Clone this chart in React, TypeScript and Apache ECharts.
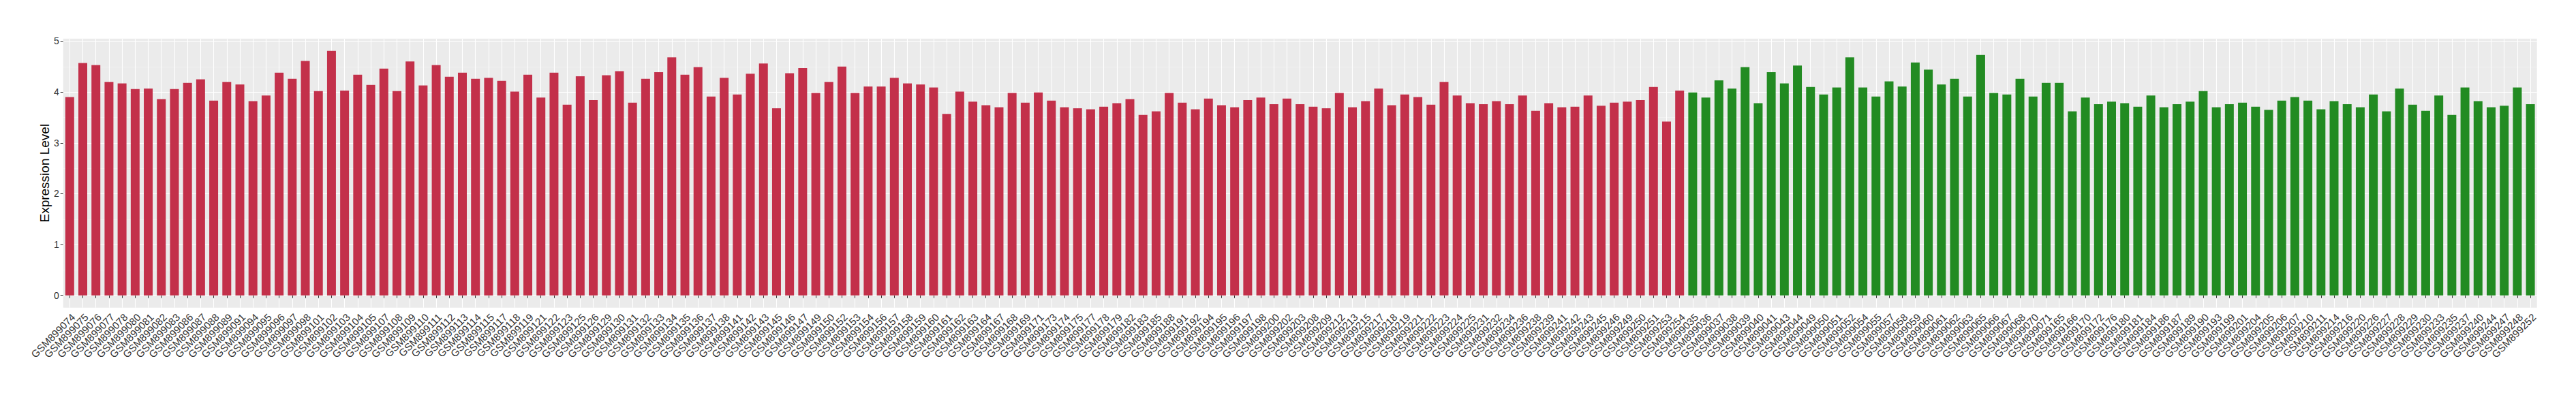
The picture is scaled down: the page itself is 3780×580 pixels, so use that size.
import React, { useEffect, useRef } from "react";
import * as echarts from "echarts";

const tumorSamples = [
  "GSM899074", "GSM899075", "GSM899076", "GSM899077", "GSM899078", "GSM899080", "GSM899081", "GSM899082", "GSM899083", "GSM899086",
  "GSM899087", "GSM899088", "GSM899089", "GSM899091", "GSM899094", "GSM899095", "GSM899096", "GSM899097", "GSM899098", "GSM899101",
  "GSM899102", "GSM899103", "GSM899104", "GSM899105", "GSM899107", "GSM899108", "GSM899109", "GSM899110", "GSM899111", "GSM899112",
  "GSM899113", "GSM899114", "GSM899115", "GSM899117", "GSM899118", "GSM899119", "GSM899121", "GSM899122", "GSM899123", "GSM899125",
  "GSM899126", "GSM899129", "GSM899130", "GSM899131", "GSM899132", "GSM899133", "GSM899134", "GSM899135", "GSM899136", "GSM899137",
  "GSM899138", "GSM899141", "GSM899142", "GSM899143", "GSM899145", "GSM899146", "GSM899147", "GSM899149", "GSM899150", "GSM899152",
  "GSM899153", "GSM899154", "GSM899156", "GSM899157", "GSM899158", "GSM899159", "GSM899160", "GSM899161", "GSM899162", "GSM899163",
  "GSM899164", "GSM899167", "GSM899168", "GSM899169", "GSM899171", "GSM899173", "GSM899174", "GSM899175", "GSM899177", "GSM899178",
  "GSM899179", "GSM899182", "GSM899183", "GSM899185", "GSM899188", "GSM899191", "GSM899192", "GSM899194", "GSM899195", "GSM899196",
  "GSM899197", "GSM899198", "GSM899200", "GSM899202", "GSM899203", "GSM899208", "GSM899209", "GSM899212", "GSM899213", "GSM899215",
  "GSM899217", "GSM899218", "GSM899219", "GSM899221", "GSM899222", "GSM899223", "GSM899224", "GSM899225", "GSM899231", "GSM899232",
  "GSM899234", "GSM899236", "GSM899238", "GSM899239", "GSM899241", "GSM899242", "GSM899243", "GSM899245", "GSM899246", "GSM899249",
  "GSM899250", "GSM899251", "GSM899253", "GSM899254",
];

const tumorValues = [
  3.90, 4.57, 4.53, 4.20, 4.17, 4.06, 4.07, 3.86, 4.06, 4.18,
  4.25, 3.83, 4.20, 4.15, 3.82, 3.93, 4.38, 4.26, 4.61, 4.02,
  4.81, 4.03, 4.34, 4.14, 4.46, 4.02, 4.60, 4.13, 4.53, 4.30,
  4.38, 4.26, 4.28, 4.22, 4.01, 4.34, 3.89, 4.38, 3.75, 4.31,
  3.84, 4.33, 4.41, 3.79, 4.26, 4.39, 4.68, 4.34, 4.49, 3.91,
  4.28, 3.95, 4.36, 4.56, 3.68, 4.37, 4.47, 3.98, 4.20, 4.50,
  3.98, 4.11, 4.11, 4.28, 4.17, 4.15, 4.09, 3.57, 4.01, 3.81,
  3.74, 3.70, 3.98, 3.79, 3.99, 3.83, 3.70, 3.68, 3.66, 3.71,
  3.78, 3.86, 3.55, 3.62, 3.98, 3.79, 3.66, 3.87, 3.74, 3.70,
  3.84, 3.89, 3.76, 3.87, 3.76, 3.71, 3.68, 3.98, 3.70, 3.82,
  4.07, 3.74, 3.95, 3.90, 3.75, 4.20, 3.93, 3.78, 3.76, 3.82,
  3.76, 3.93, 3.63, 3.78, 3.70, 3.71, 3.93, 3.73, 3.79, 3.81,
  3.84, 4.10, 3.42, 4.03,
];

const normalSamples = [
  "GSM899035", "GSM899036", "GSM899037", "GSM899038", "GSM899039", "GSM899040", "GSM899041", "GSM899043", "GSM899044", "GSM899049",
  "GSM899050", "GSM899051", "GSM899052", "GSM899054", "GSM899055", "GSM899057", "GSM899058", "GSM899059", "GSM899060", "GSM899061",
  "GSM899062", "GSM899063", "GSM899065", "GSM899066", "GSM899067", "GSM899068", "GSM899070", "GSM899071", "GSM899165", "GSM899166",
  "GSM899170", "GSM899172", "GSM899176", "GSM899180", "GSM899181", "GSM899184", "GSM899186", "GSM899187", "GSM899189", "GSM899190",
  "GSM899193", "GSM899199", "GSM899201", "GSM899204", "GSM899205", "GSM899206", "GSM899207", "GSM899210", "GSM899211", "GSM899214",
  "GSM899216", "GSM899220", "GSM899226", "GSM899227", "GSM899228", "GSM899229", "GSM899230", "GSM899233", "GSM899235", "GSM899237",
  "GSM899240", "GSM899244", "GSM899247", "GSM899248", "GSM899252",
];

const normalValues = [
  3.99, 3.89, 4.23, 4.07, 4.49, 3.78, 4.39, 4.17, 4.52, 4.10,
  3.95, 4.09, 4.68, 4.09, 3.91, 4.21, 4.11, 4.58, 4.44, 4.15,
  4.26, 3.91, 4.73, 3.98, 3.95, 4.26, 3.91, 4.18, 4.18, 3.62,
  3.89, 3.76, 3.81, 3.78, 3.71, 3.93, 3.70, 3.76, 3.81, 4.02,
  3.70, 3.76, 3.79, 3.71, 3.65, 3.83, 3.90, 3.83, 3.66, 3.82,
  3.76, 3.70, 3.95, 3.62, 4.07, 3.75, 3.63, 3.93, 3.55, 4.09,
  3.82, 3.70, 3.73, 4.09, 3.76,
];

const yTickMin = 0;
const yTickMax = 5;
const yTickStep = 1;

const TUMOR_COLOR = "#C3304A";
const NORMAL_COLOR = "#228B22";
const FONT = "'Liberation Sans', Arial, Helvetica, sans-serif";

export default function App() {
  const ref = useRef<HTMLDivElement>(null);

  useEffect(() => {
    if (!ref.current) return;
    const chart = echarts.init(ref.current, null, { renderer: "svg" });

    const categories = [...tumorSamples, ...normalSamples];
    const values = [...tumorValues, ...normalValues];
    const dataMax = Math.max(...values);
    const pad = dataMax * 0.05;
    const yMin = -pad;
    const yMax = dataMax + pad;

    const panel = { left: 92.7, top: 56.7, width: 3630, height: 395 };
    const pxPerUnit = panel.height / (yMax - yMin);
    const tickGridTop = panel.top + (yMax - yTickMax) * pxPerUnit;
    const tickGridHeight = (yTickMax - yTickMin) * pxPerUnit;

    const barData = values.map((v, i) => ({
      value: v,
      itemStyle: { color: i < tumorValues.length ? TUMOR_COLOR : NORMAL_COLOR },
    }));

    chart.setOption({
      animation: false,
      backgroundColor: "#FFFFFF",
      textStyle: { fontFamily: FONT },
      grid: [
        {
          left: panel.left,
          top: panel.top,
          width: panel.width,
          height: panel.height,
          show: true,
          backgroundColor: "#EBEBEB",
          borderWidth: 0,
          containLabel: false,
          outerBoundsMode: "none",
        },
        {
          left: panel.left,
          top: tickGridTop,
          width: panel.width,
          height: tickGridHeight,
          show: false,
          containLabel: false,
          outerBoundsMode: "none",
        },
      ],
      xAxis: [
        {
          type: "category",
          gridIndex: 0,
          data: categories,
          boundaryGap: true,
          axisLine: { show: false },
          axisTick: { show: true, alignWithLabel: true, length: 4, lineStyle: { color: "#333333", width: 1 } },
          axisLabel: {
            show: true,
            interval: 0,
            rotate: 45,
            margin: 6,
            verticalAlign: "top",
            color: "#333333",
            fontSize: 15,
            fontFamily: FONT,
          },
          splitLine: { show: true, alignWithLabel: true, lineStyle: { color: "#FFFFFF", width: 1.1 } },
        },
        {
          type: "value",
          gridIndex: 1,
          min: 0,
          max: 1,
          show: false,
          splitLine: { show: false },
        },
      ],
      yAxis: [
        {
          type: "value",
          gridIndex: 0,
          min: yMin,
          max: yMax,
          axisLine: { show: false },
          axisTick: { show: false },
          axisLabel: { show: false },
          splitLine: { show: false },
          name: "Expression Level",
          nameLocation: "middle",
          nameGap: 18,
          nameTextStyle: { fontSize: 19, color: "#000000", fontFamily: FONT },
        },
        {
          type: "value",
          gridIndex: 1,
          min: yTickMin,
          max: yTickMax,
          interval: yTickStep,
          axisLine: { show: false },
          axisTick: { show: true, length: 4, lineStyle: { color: "#333333", width: 1 } },
          axisLabel: { show: true, margin: 6, color: "#333333", fontSize: 14, fontFamily: FONT },
          splitLine: { show: true, lineStyle: { color: "#FFFFFF", width: 1.1 } },
          minorTick: { show: false, splitNumber: 2 },
          minorSplitLine: { show: true, lineStyle: { color: "#F5F5F5", width: 0.6 } },
        },
      ],
      series: [
        {
          type: "bar",
          xAxisIndex: 0,
          yAxisIndex: 0,
          data: barData,
          barWidth: 13,
        },
      ],
    });

    return () => {
      chart.dispose();
    };
  }, []);

  return (
    <div
      ref={ref}
      style={{ position: "absolute", left: 0, top: 0, width: 3780, height: 580 }}
    />
  );
}
